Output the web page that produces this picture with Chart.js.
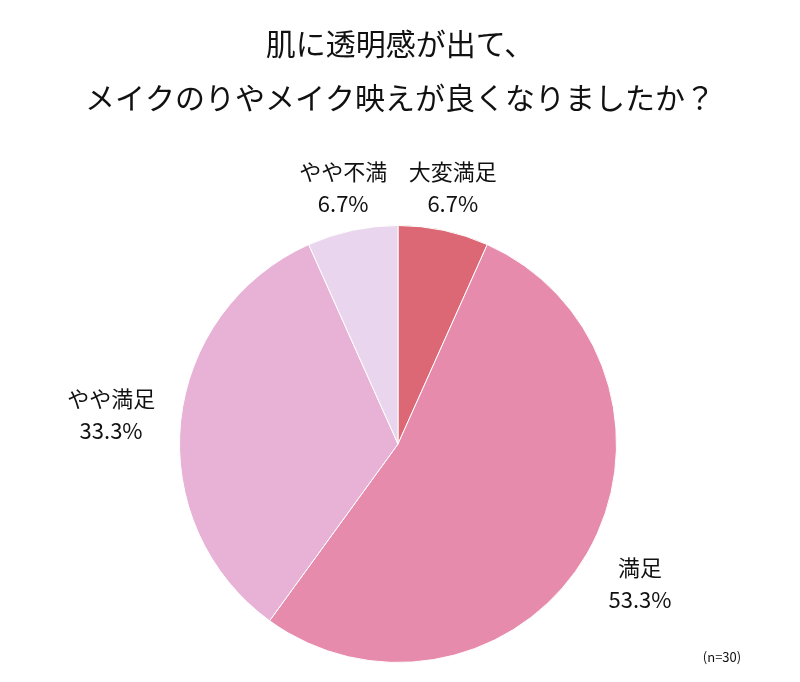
<!DOCTYPE html>
<html><head><meta charset="utf-8">
<script src="https://cdn.jsdelivr.net/npm/chart.js@4"></script>
<style>html,body{margin:0;background:#fff}#w{width:800px;height:682px}</style>
</head><body><div id="w"><canvas id="c"></canvas></div>
<script>
const titleLines = ["肌に透明感が出て、","メイクのりやメイク映えが良くなりましたか？"];
const categories = ["大変満足","満足","やや満足","やや不満"];
const values = [6.7,53.3,33.3,6.7];
const valueLabels = ["6.7%","53.3%","33.3%","6.7%"];
const colors = ["#db6874","#e68bac","#e8b1d6","#ead5ee"];
const note = "(n=30)";
const labelDist = [1.2,1.28,1.32,1.2];
const font = '"Noto Sans CJK JP", sans-serif';
const textPlugin = {id:'txt', afterDraw(chart){
  const ctx = chart.ctx; ctx.save(); ctx.fillStyle='#111'; ctx.textAlign='center'; ctx.textBaseline='middle';
  ctx.font = '30px '+font;
  ctx.fillText(titleLines[0],400,44); ctx.fillText(titleLines[1],400,98);
  ctx.font = '22px '+font;
  chart.getDatasetMeta(0).data.forEach((a,i)=>{
    const m=(a.startAngle+a.endAngle)/2, r=a.outerRadius*labelDist[i];
    const x=a.x+Math.cos(m)*r, y=a.y+Math.sin(m)*r;
    ctx.fillText(categories[i],x,y-16); ctx.fillText(valueLabels[i],x,y+16);
  });
  ctx.font='13px '+font; ctx.fillText(note,722,657);
  ctx.restore();
}};
new Chart(document.getElementById('c'),{type:'pie',
  data:{labels:categories,datasets:[{data:values,backgroundColor:colors,borderColor:'#fff',borderWidth:1}]},
  options:{responsive:true,maintainAspectRatio:false,animation:false,
    layout:{padding:{top:225,bottom:19,left:179,right:183}},
    plugins:{legend:{display:false},tooltip:{enabled:false}}},
  plugins:[textPlugin]});
</script></body></html>
